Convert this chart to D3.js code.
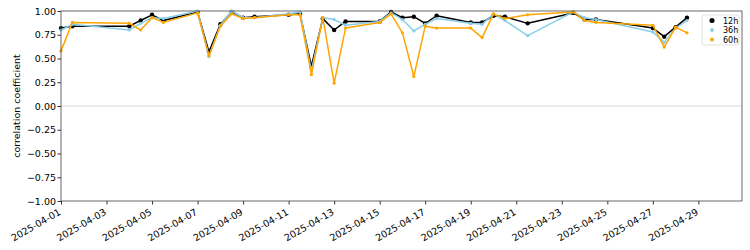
<!DOCTYPE html>
<html>
<head>
<meta charset="utf-8">
<script src="https://cdn.jsdelivr.net/npm/d3@7"></script>
<style>
  body { margin: 0; background: #fff; }
  svg text { font-family: "DejaVu Sans", sans-serif; }
</style>
</head>
<body>
<div class="container"></div>
<script>
let width = 750
let height = 250
let margin = { left: 61, right: 8, top: 11, bottom: 49 }

const times = ['2025-04-01T00', '2025-04-01T12', '2025-04-04T00', '2025-04-04T12', '2025-04-05T00', '2025-04-05T12',
    '2025-04-07T00', '2025-04-07T12', '2025-04-08T00', '2025-04-08T12', '2025-04-09T00', '2025-04-09T12',
    '2025-04-11T00', '2025-04-11T12', '2025-04-12T00', '2025-04-12T12', '2025-04-13T00', '2025-04-13T12',
    '2025-04-15T00', '2025-04-15T12', '2025-04-16T00', '2025-04-16T12', '2025-04-17T00', '2025-04-17T12',
    '2025-04-19T00', '2025-04-19T12', '2025-04-20T00', '2025-04-20T12', '2025-04-21T12', '2025-04-23T12',
    '2025-04-24T00', '2025-04-24T12', '2025-04-27T00', '2025-04-27T12', '2025-04-28T00', '2025-04-28T12']

const corr12h = [0.82, 0.84, 0.84, 0.90, 0.96, 0.90, 0.99, 0.57, 0.86, 0.99, 0.93, 0.94,
    0.96, 0.97, 0.42, 0.92, 0.80, 0.89, 0.89, 0.99, 0.93, 0.94, 0.87, 0.95,
    0.88, 0.88, 0.95, 0.94, 0.87, 0.98, 0.91, 0.91, 0.82, 0.73, 0.83, 0.93]
const corr36h = [0.80, 0.86, 0.80, 0.87, 0.93, 0.92, 1.00, 0.52, 0.85, 1.00, 0.93, 0.93,
    0.97, 0.99, 0.37, 0.93, 0.91, 0.85, 0.89, 0.98, 0.91, 0.79, 0.86, 0.92,
    0.87, 0.86, 0.97, 0.90, 0.74, 0.99, 0.93, 0.91, 0.78, 0.67, 0.82, 0.90]
const corr60h = [0.58, 0.88, 0.87, 0.80, 0.93, 0.88, 0.98, 0.53, 0.84, 0.97, 0.92, 0.93,
    0.96, 0.96, 0.33, 0.93, 0.24, 0.82, 0.88, 0.97, 0.77, 0.31, 0.84, 0.82,
    0.82, 0.72, 0.97, 0.92, 0.96, 0.99, 0.90, 0.88, 0.85, 0.62, 0.83, 0.77]

const seriesNames = ['12h', '36h', '60h']
const seriesColours = ['black', '#87ceeb', 'orange']
const yTicks = [-1, -0.75, -0.5, -0.25, 0, 0.25, 0.5, 0.75, 1]
const xTickDays = ['2025-04-01', '2025-04-03', '2025-04-05', '2025-04-07', '2025-04-09', '2025-04-11', '2025-04-13',
    '2025-04-15', '2025-04-17', '2025-04-19', '2025-04-21', '2025-04-23', '2025-04-25', '2025-04-27', '2025-04-29']

let parseTime = d3.utcParse('%Y-%m-%dT%H')
let parseDay = d3.utcParse('%Y-%m-%d')
let dates = times.map(parseTime)
let series = [corr12h, corr36h, corr60h].map((vals, i) => ({
    name: seriesNames[i],
    colour: seriesColours[i],
    r: i == 0 ? 2.2 : 1.6,
    points: vals.map((v, j) => ({ date: dates[j], value: v }))
}))

let svg = d3.select('.container')
    .append('svg')
    .attr('width', width)
    .attr('height', height)

let xScale = d3.scaleUtc()
    .domain([parseDay('2025-04-01'), parseTime('2025-04-30T22')])
    .range([margin.left, width - margin.right])

let yScale = d3.scaleLinear()
    .domain([-1, 1])
    .range([height - margin.bottom, margin.top])

// zero line
svg.append('line')
    .attr('x1', margin.left)
    .attr('x2', width - margin.right)
    .attr('y1', yScale(0))
    .attr('y2', yScale(0))
    .attr('stroke', '#cccccc')
    .attr('stroke-width', 0.8)

let line = d3.line()
    .x(d => xScale(d.date))
    .y(d => yScale(d.value))

series.forEach((s) => {
    svg.append('path')
        .datum(s.points)
        .attr('fill', 'none')
        .attr('stroke', s.colour)
        .attr('stroke-width', 1.5)
        .attr('stroke-linejoin', 'round')
        .attr('d', line)
    svg.append('g')
        .selectAll('circle')
        .data(s.points)
        .enter()
        .append('circle')
        .attr('cx', d => xScale(d.date))
        .attr('cy', d => yScale(d.value))
        .attr('r', s.r)
        .attr('fill', s.colour)
})

let xAxis = d3.axisBottom(xScale)
    .tickValues(xTickDays.map(parseDay))
    .tickFormat(d3.utcFormat('%Y-%m-%d'))
    .tickSizeOuter(0)
    .tickSize(3.5)

let yAxis = d3.axisLeft(yScale)
    .tickValues(yTicks)
    .tickFormat(d3.format('.2f'))
    .tickSizeOuter(0)
    .tickSize(3.5)

let gx = svg.append('g')
    .attr('transform', `translate(0,${height - margin.bottom})`)
    .call(xAxis)
gx.select('.domain').remove()
gx.selectAll('line').attr('stroke', '#333')
gx.selectAll('text')
    .attr('font-size', 9.5)
    .attr('fill', '#000')
    .attr('text-anchor', 'end')
    .attr('dy', 0)
    .attr('y', 0)
    .attr('transform', 'translate(0,13) rotate(-30)')

let gy = svg.append('g')
    .attr('transform', `translate(${margin.left},0)`)
    .call(yAxis)
gy.select('.domain').remove()
gy.selectAll('line').attr('stroke', '#333')
gy.selectAll('text')
    .attr('font-size', 9.5)
    .attr('fill', '#000')
    .attr('x', -5)

// frame
svg.append('rect')
    .attr('x', margin.left)
    .attr('y', margin.top)
    .attr('width', width - margin.right - margin.left)
    .attr('height', height - margin.bottom - margin.top)
    .attr('fill', 'none')
    .attr('stroke', '#444')
    .attr('stroke-width', 0.8)

svg.append('text')
    .attr('transform', `translate(20,${yScale(0)}) rotate(-90)`)
    .attr('text-anchor', 'middle')
    .attr('font-size', 9.5)
    .text('correlation coefficient')

// legend
let legend = svg.append('g')
    .attr('transform', 'translate(702,15)')
legend.append('rect')
    .attr('width', 37)
    .attr('height', 30)
    .attr('rx', 2)
    .attr('fill', 'white')
    .attr('stroke', '#d9d9d9')
    .attr('stroke-width', 0.8)
let items = legend.selectAll('.item')
    .data(series)
    .enter()
    .append('g')
    .attr('transform', (d, i) => `translate(0,${5.5 + i * 9.5})`)
items.append('circle')
    .attr('cx', 10)
    .attr('cy', 0)
    .attr('r', d => d.r + 0.3)
    .attr('fill', d => d.colour)
items.append('text')
    .attr('x', 21)
    .attr('y', 3)
    .attr('font-size', 8)
    .text(d => d.name)
</script>
</body>
</html>
